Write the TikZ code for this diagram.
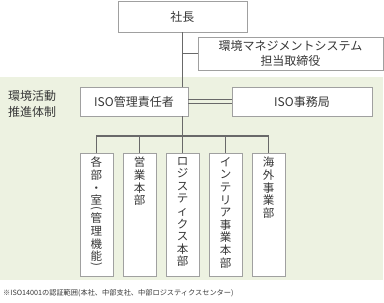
\documentclass[tikz,border=0pt]{standalone}
\usepackage{fontspec}
\setmainfont{Noto Sans CJK JP}
\usepackage{graphicx}
\definecolor{bggreen}{RGB}{237,242,225}
\definecolor{boxline}{RGB}{160,160,160}
\definecolor{conn}{RGB}{105,105,105}
\definecolor{txt}{RGB}{55,55,55}
\newcommand{\vparen}[1]{\rotatebox[origin=c]{-90}{#1}}
\tikzset{
  orgbox/.style={draw=boxline, line width=0.9pt, fill=white, text=txt, inner sep=0pt,
    font=\fontsize{12}{15}\selectfont, align=center},
  vbox/.style={draw=boxline, line width=0.9pt, fill=white, minimum width=33pt, minimum height=123pt, inner sep=0pt},
  vtext/.style={text=txt, inner sep=0pt, anchor=north, align=center, font=\fontsize{11.5}{12.6}\selectfont},
  link/.style={draw=conn, line width=1.1pt},
}
\begin{document}
\begin{tikzpicture}[x=1pt,y=-1pt]
\useasboundingbox (0,0) rectangle (384,303);
\fill[bggreen] (0,77) rectangle (383,280);

\node[orgbox, minimum width=129pt, minimum height=31pt] (pres) at (182.5,16.5) {社長};
\node[orgbox, minimum width=185pt, minimum height=33pt] (env) at (290.5,53.5) {環境マネジメントシステム\\担当取締役};
\node[orgbox, minimum width=108pt, minimum height=29pt] (mgr) at (134,101.5) {ISO管理責任者};
\node[orgbox, minimum width=140pt, minimum height=29pt] (sec) at (302,101.5) {ISO事務局};

\node[text=txt, anchor=west, inner sep=0pt, align=left, font=\fontsize{12}{16}\selectfont] (lbl) at (8,104) {環境活動\\推進体制};

\foreach \i/\x in {1/96.5,2/139.5,3/182.5,4/225.5,5/268.5}{
  \node[vbox, anchor=north] (d\i) at (\x,153) {};
}
\node[vtext] (t1) at (96.5,157) {各\\部\\・\\室\\[-5pt]\vparen{(}\\[-2pt]管\\理\\機\\能\\[-5pt]\vparen{)}};
\node[vtext] (t2) at (139.5,157) {営\\業\\本\\部};
\node[vtext] (t3) at (182.5,157) {ロ\\ジ\\ス\\テ\\ィ\\ク\\ス\\本\\部};
\node[vtext] (t4) at (225.5,157) {イ\\ン\\テ\\リ\\ア\\事\\業\\本\\部};
\node[vtext] (t5) at (268.5,157) {海\\外\\事\\業\\部};

\coordinate (j1) at (pres.south |- env.west);
\coordinate (j2) at (pres.south |- mgr.north);
\coordinate (j3) at (pres.south |- mgr.south);
\coordinate (bus) at (182.5,136);

\draw[link] (pres.south) -- (j2);
\draw[link] (j1) -- (env.west);
\draw[link] (j3) -- (bus);
\draw[link] (d1.north) -- (d1.north |- bus) -- (d5.north |- bus) -- (d5.north);
\foreach \i in {2,3,4}{
  \draw[link] (d\i.north |- bus) -- (d\i.north);
}
\draw[link] ([yshift=-1.6pt]mgr.east) -- ([yshift=-1.6pt]sec.west);
\draw[link] ([yshift=1.6pt]mgr.east) -- ([yshift=1.6pt]sec.west);

\node[text=txt, anchor=west, inner sep=0pt, font=\fontsize{7.2}{8.5}\selectfont] (note) at (3,293) {※ISO14001の認証範囲(本社、中部支社、中部ロジスティクスセンター)};
\end{tikzpicture}
\end{document}
